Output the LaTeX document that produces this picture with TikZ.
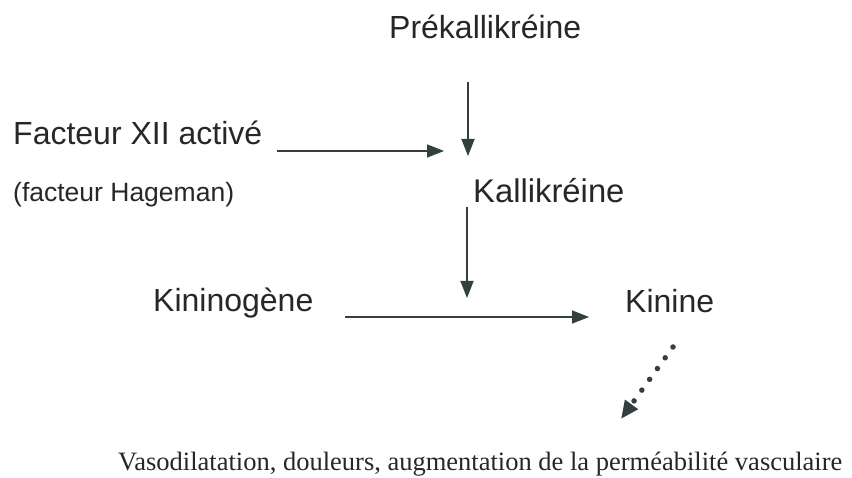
\documentclass[tikz,border=0pt]{standalone}
\usepackage{fontspec}
\setmainfont{Liberation Sans}
\newfontfamily\timesfont{Liberation Serif}
\usetikzlibrary{arrows.meta}
\definecolor{txt}{HTML}{262828}
\definecolor{arr}{HTML}{34403F}
\begin{document}
\begin{tikzpicture}[x=1pt,y=-1pt,
  lbl/.style={anchor=base west,inner sep=0pt,text=txt,font=\fontsize{32}{36}\selectfont},
  conn/.style={draw=arr,line width=1.7pt,-{Triangle[length=17pt,width=13pt]}}]
\path[use as bounding box,fill=white] (0,0) rectangle (852,478);
\node[lbl] (prek) at (389,39) {Prékallikréine};
\node[lbl] (fxii) at (13,145) {Facteur XII activé};
\node[lbl,font=\fontsize{26.5}{30}\selectfont] (hag) at (13,202) {(facteur Hageman)};
\node[lbl,font=\fontsize{32.8}{36}\selectfont] (kall) at (473,203) {Kallikréine};
\node[lbl] (kinog) at (153,312) {Kininogène};
\node[lbl] (kin) at (625,313) {Kinine};
\node[lbl,font=\timesfont\fontsize{26.5}{30}\selectfont] (vaso) at (118,471) {Vasodilatation, douleurs, augmentation de la perméabilité vasculaire};
\coordinate (a1s) at (468,82);
\coordinate (a1e) at (468,156);
\coordinate (a2s) at (277,151);
\coordinate (a2e) at (444,151);
\coordinate (a3s) at (467,207);
\coordinate (a3e) at (467,298);
\coordinate (a4s) at (345,317);
\coordinate (a4e) at (589,317);
\coordinate (a5s) at (673,347);
\coordinate (a5e) at (621,419);
\draw[conn] (a1s) -- (a1e);
\draw[conn] (a2s) -- (a2e);
\draw[conn] (a3s) -- (a3e);
\draw[conn] (a4s) -- (a4e);
\draw[draw=arr,line width=5.5pt,line cap=round,dash pattern=on 0pt off 13.3pt,
  -{Triangle[length=18pt,width=15pt]}] (a5s) -- (a5e);
\end{tikzpicture}
\end{document}
